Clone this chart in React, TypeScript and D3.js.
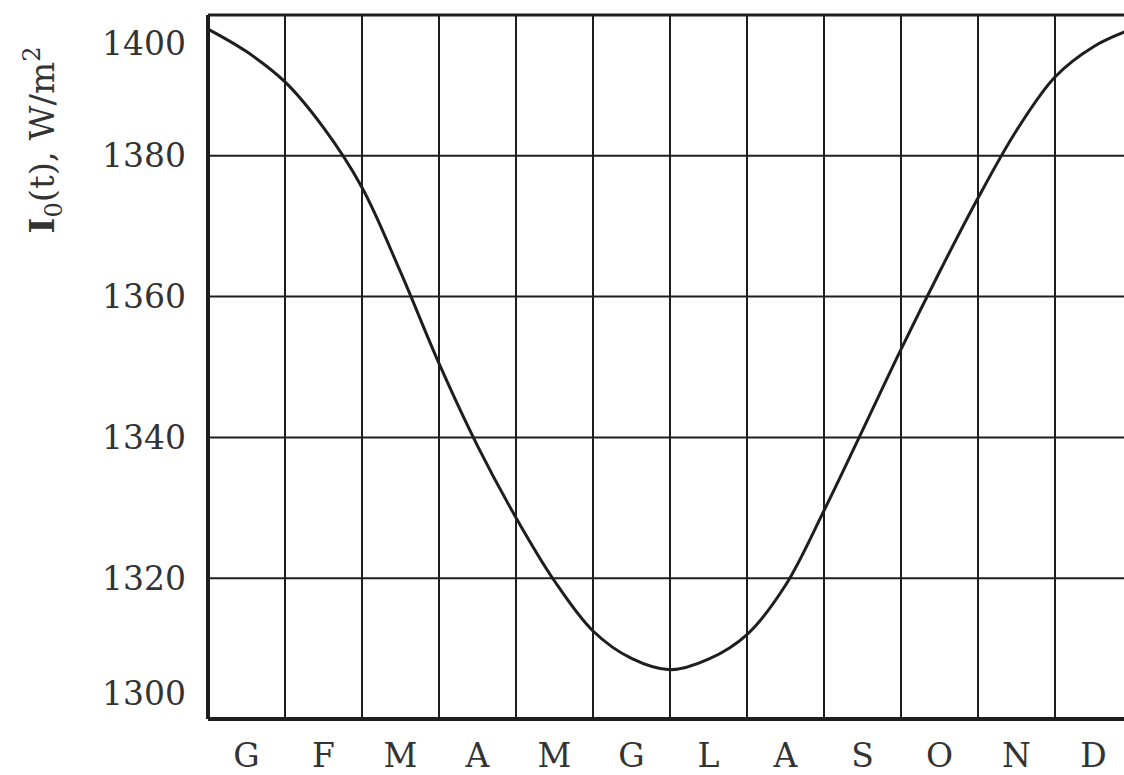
import React from "react";
import * as d3 from "d3";

const monthLabels = ["G", "F", "M", "A", "M", "G", "L", "A", "S", "O", "N", "D"];
const yTicks = [1300, 1320, 1340, 1360, 1380, 1400];
const monthPos = [0, 0.5, 1, 1.5, 2, 2.5, 3, 3.5, 4, 4.5, 5, 5.5, 6, 6.5, 7, 7.5, 8, 8.5, 9, 9.5, 10, 10.5, 11, 11.5, 12];
const irradiance = [
  1398, 1394.8, 1390.5, 1384, 1375.5, 1363.5, 1350.5, 1338.8, 1328.6, 1319.6, 1312.5, 1308.6, 1307,
  1308.5, 1312, 1319, 1329.6, 1341, 1352.5, 1363.5, 1374, 1383.6, 1391.2, 1395.5, 1398,
];

const W = 1124;
const H = 775;
const FONT = "'DejaVu Serif', serif";
const INK = "#1e1e1e";

export default function App() {
  const x = d3.scaleLinear().domain([0, 12]).range([208, 1132]);
  const y = d3.scaleLinear().domain([1300, 1400]).range([719, 15]);
  const pts: [number, number][] = monthPos.map((m, i) => [m, irradiance[i]]);
  const line = d3
    .line<[number, number]>()
    .x((d) => x(d[0]))
    .y((d) => y(d[1]))
    .curve(d3.curveCatmullRom.alpha(0.5));
  const gridX = d3.range(0, 13);
  const [y0, y1] = y.range();
  return (
    <div style={{ position: "absolute", left: 0, top: 0, width: W, height: H, overflow: "hidden", background: "#fff" }}>
      <svg width={W} height={H} style={{ display: "block" }}>
        <rect width={W} height={H} fill="#fff" />
        {gridX.map((m) => (
          <line key={"vx" + m} x1={x(m)} x2={x(m)} y1={y1} y2={y0} stroke={INK} strokeWidth={m === 0 ? 4 : 2} />
        ))}
        {yTicks.map((v) => (
          <line
            key={"hy" + v}
            x1={x(0)}
            x2={x(12)}
            y1={y(v)}
            y2={y(v)}
            stroke={INK}
            strokeWidth={v === 1300 ? 4 : v === 1400 ? 3 : 2}
          />
        ))}
        <path d={line(pts) || ""} fill="none" stroke={INK} strokeWidth={3} />
        {yTicks.map((v) => (
          <text
            key={"ty" + v}
            x={186}
            y={Math.min(Math.max(y(v), y1 + 28), y0 - 26)}
            textAnchor="end"
            dominantBaseline="central"
            fontFamily={FONT}
            fontSize={33}
            fill="#333"
          >
            {v}
          </text>
        ))}
        {monthLabels.map((lab, i) => (
          <text
            key={"mx" + i}
            x={x(i + 0.5)}
            y={767}
            textAnchor="middle"
            fontFamily={FONT}
            fontSize={33}
            fill="#333"
          >
            {lab}
          </text>
        ))}
        <text
          transform="translate(54,140) rotate(-90)"
          textAnchor="middle"
          fontFamily={FONT}
          fontSize={34}
          fill="#333"
        >
          <tspan fontWeight="bold">I</tspan>
          <tspan fontSize={24} dy={8}>0</tspan>
          <tspan dy={-8}>(t), W/m</tspan>
          <tspan fontSize={24} dy={-14}>2</tspan>
        </text>
      </svg>
    </div>
  );
}
